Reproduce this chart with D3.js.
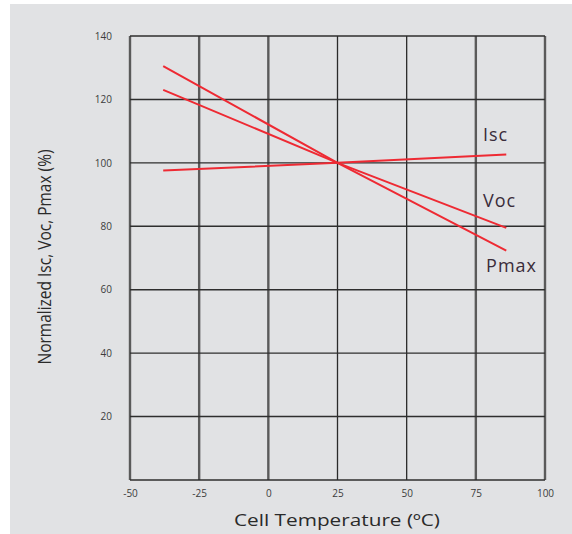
<!DOCTYPE html>
<html>
<head>
<meta charset="utf-8">
<script src="https://cdn.jsdelivr.net/npm/d3@7"></script>
<style>
  body { margin: 0; background: #fff; }
  svg { display: block; }
</style>
</head>
<body>
<svg id="vis" width="572" height="534"></svg>
<script>
// values
var temps = [-38, 25, 86];
var isc = [97.6, 100, 102.6];
var voc = [123, 100, 79.5];
var pmax = [130.5, 100, 72.3];
var seriesNames = ["Isc", "Voc", "Pmax"];
var xTicks = [-50, -25, 0, 25, 50, 75, 100];
var yTicks = [20, 40, 60, 80, 100, 120, 140];

var svg = d3.select("#vis");
var margin = {top: 36, right: 27, bottom: 54, left: 130};
var width = 572 - margin.left - margin.right;
var height = 534 - margin.top - margin.bottom;

svg.append("rect")
    .attr("x", 10).attr("y", 4)
    .attr("width", 562).attr("height", 530)
    .attr("fill", "#e1e2e4");

var x = d3.scaleLinear().domain([-50, 100]).range([margin.left, margin.left + width]);
var y = d3.scaleLinear().domain([0, 140]).range([margin.top + height, margin.top]);

var g = svg.append("g");

// vertical grid
g.selectAll(".vgrid")
    .data(xTicks)
    .enter()
    .append("line")
    .attr("x1", function(d) { return x(d); })
    .attr("x2", function(d) { return x(d); })
    .attr("y1", y(140))
    .attr("y2", y(0))
    .attr("stroke", function(d) { return (d == 25 || d == 50) ? "#2a2a2a" : "#5a5a5a"; })
    .attr("stroke-width", function(d) { return (d == 25 || d == 50) ? 1.3 : 2.4; });

// horizontal grid
g.selectAll(".hgrid")
    .data(yTicks.concat([0]))
    .enter()
    .append("line")
    .attr("x1", x(-50))
    .attr("x2", x(100))
    .attr("y1", function(d) { return y(d); })
    .attr("y2", function(d) { return y(d); })
    .attr("stroke", "#2e2e2e")
    .attr("stroke-width", 1.4);

// axes
var xAxis = d3.axisBottom(x).tickValues(xTicks).tickSize(0).tickPadding(10)
    .tickFormat(function(d) { return d; });
var yAxis = d3.axisLeft(y).tickValues(yTicks).tickSize(0).tickPadding(18);

var gx = svg.append("g").attr("transform", "translate(0," + y(0) + ")").call(xAxis);
var gy = svg.append("g").attr("transform", "translate(" + x(-50) + ",0)").call(yAxis);
[gx, gy].forEach(function(a) {
    a.select(".domain").remove();
    a.selectAll("text")
        .attr("fill", "#3c3c3c")
        .style("font-family", "'Open Sans', sans-serif")
        .style("font-size", "10px");
});

// lines
var line = d3.line()
    .x(function(d) { return x(d[0]); })
    .y(function(d) { return y(d[1]); });

[isc, voc, pmax].forEach(function(s) {
    svg.append("path")
        .datum(d3.zip(temps, s))
        .attr("d", line)
        .attr("fill", "none")
        .attr("stroke", "#ee2a33")
        .attr("stroke-width", 2);
});

// series labels
var labelPos = [[77.6, 106.9], [77.6, 86.1], [78.7, 65.6]];
svg.selectAll(".lbl")
    .data(seriesNames)
    .enter()
    .append("text")
    .attr("x", function(d, i) { return x(labelPos[i][0]); })
    .attr("y", function(d, i) { return y(labelPos[i][1]); })
    .attr("fill", "#3a2c3a")
    .style("font-family", "'Open Sans', sans-serif")
    .style("font-size", "18px")
    .style("letter-spacing", "1px")
    .text(function(d) { return d; });

// axis titles
svg.append("text")
    .attr("x", 337)
    .attr("y", 526)
    .attr("text-anchor", "middle")
    .attr("fill", "#2a2a2a")
    .attr("textLength", 206)
    .attr("lengthAdjust", "spacingAndGlyphs")
    .style("font-family", "'Open Sans', sans-serif")
    .style("font-size", "17px")
    .text("Cell Temperature (ºC)");

svg.append("text")
    .attr("transform", "translate(51,257) rotate(-90)")
    .attr("text-anchor", "middle")
    .attr("fill", "#2a2a2a")
    .attr("textLength", 215)
    .attr("lengthAdjust", "spacingAndGlyphs")
    .style("font-family", "'Open Sans', sans-serif")
    .style("font-size", "18px")
    .text("Normalized Isc, Voc, Pmax (%)");
</script>
</body>
</html>
